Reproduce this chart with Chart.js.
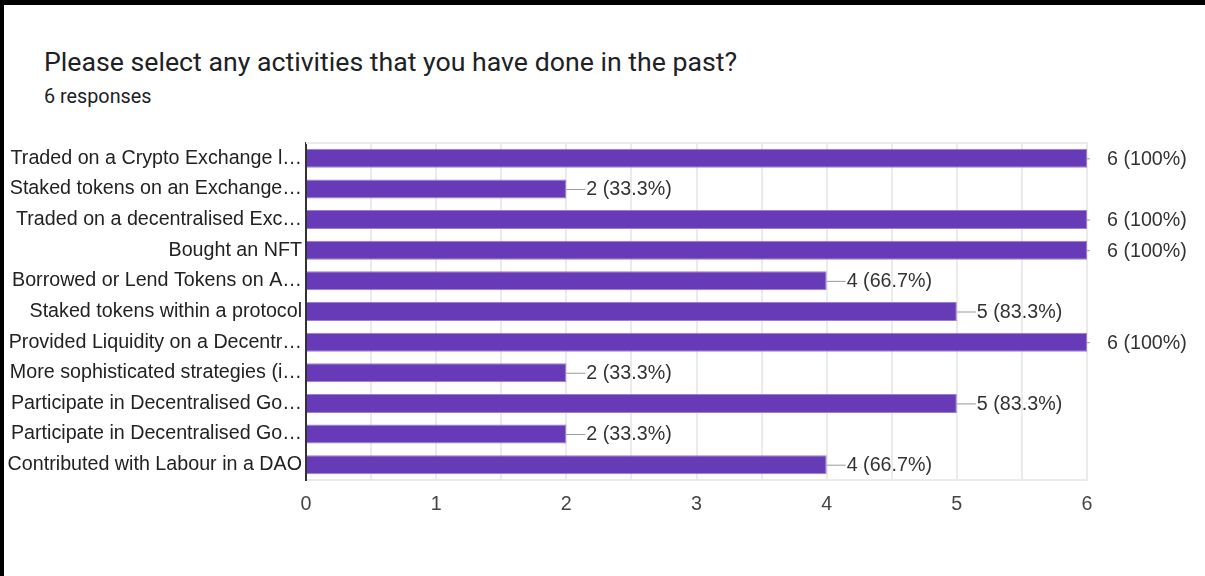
<!DOCTYPE html>
<html>
<head>
<meta charset="utf-8">
<script src="https://cdn.jsdelivr.net/npm/chart.js@4"></script>
<style>
  html, body { margin: 0; padding: 0; background: #000; width: 1205px; height: 576px; overflow: hidden; }
  #card { position: absolute; left: 4px; top: 5px; right: 0; bottom: 0; background: #fff; }
  #title { position: absolute; left: 44px; top: 46px; font-family: Roboto, sans-serif; font-size: 26.7px; line-height: 32px; color: #202124; white-space: nowrap; }
  #sub { position: absolute; left: 44px; top: 85px; font-family: Roboto, sans-serif; font-size: 19.8px; line-height: 24px; color: #202124; white-space: nowrap; }
  #wrap { position: absolute; left: 0; top: 0; width: 1205px; height: 576px; }
</style>
</head>
<body>
<div id="card"></div>
<div id="title">Please select any activities that you have done in the past?</div>
<div id="sub">6 responses</div>
<div id="wrap"><canvas id="c" width="1205" height="576"></canvas></div>
<script>
const categories = [
  "Traded on a Crypto Exchange l…",
  "Staked tokens on an Exchange…",
  "Traded on a decentralised Exc…",
  "Bought an NFT",
  "Borrowed or Lend Tokens on A…",
  "Staked tokens within a protocol",
  "Provided Liquidity on a Decentr…",
  "More sophisticated strategies (i…",
  "Participate in Decentralised Go…",
  "Participate in Decentralised Go…",
  "Contributed with Labour in a DAO"
];
const counts = [6, 2, 6, 6, 4, 5, 6, 2, 5, 2, 4];
const valueLabels = ["6 (100%)", "2 (33.3%)", "6 (100%)", "6 (100%)", "4 (66.7%)", "5 (83.3%)", "6 (100%)", "2 (33.3%)", "5 (83.3%)", "2 (33.3%)", "4 (66.7%)"];
const xTickLabels = ["0", "1", "2", "3", "4", "5", "6"];

const FONT = '"Liberation Sans", Arial, sans-serif';
const FS = 19.7;

const labelPlugin = {
  id: 'valueLabels',
  beforeDatasetsDraw(chart) {
    const ctx = chart.ctx, a = chart.chartArea;
    ctx.save();
    ctx.strokeStyle = '#ebebeb';
    ctx.lineWidth = 2;
    ctx.beginPath();
    ctx.moveTo(a.left, a.top); ctx.lineTo(a.right + 1, a.top);
    ctx.stroke();
    ctx.restore();
  },
  afterDatasetsDraw(chart) {
    const ctx = chart.ctx, a = chart.chartArea;
    const meta = chart.getDatasetMeta(0);
    ctx.save();
    ctx.font = FS + 'px ' + FONT;
    ctx.textBaseline = 'middle';
    ctx.textAlign = 'left';
    meta.data.forEach((bar, i) => {
      const x = bar.x, y = bar.y;
      const end = Math.min(x + 19, a.right + 3);
      ctx.strokeStyle = '#999';
      ctx.lineWidth = 1;
      ctx.beginPath();
      ctx.moveTo(x, y + 0.5); ctx.lineTo(end, y + 0.5);
      ctx.stroke();
      ctx.fillStyle = '#333';
      ctx.fillText(valueLabels[i], x + 20, y + 1);
    });
    ctx.restore();
  }
};

new Chart(document.getElementById('c'), {
  type: 'bar',
  data: {
    labels: categories,
    datasets: [{
      data: counts,
      backgroundColor: '#673ab7',
      borderColor: '#9b7fd4',
      borderWidth: 1,
      borderSkipped: 'start',
      barPercentage: 0.62,
      categoryPercentage: 1.0
    }]
  },
  options: {
    indexAxis: 'y',
    responsive: false,
    animation: false,
    layout: { padding: { top: 143, right: 118, bottom: 56, left: 0 } },
    plugins: { legend: { display: false }, tooltip: { enabled: false } },
    scales: {
      x: {
        min: 0, max: 6,
        ticks: {
          stepSize: 0.5,
          padding: 13,
          color: '#444',
          font: { family: FONT, size: FS },
          callback: (v) => Number.isInteger(v) ? xTickLabels[v] : ''
        },
        grid: { color: '#ebebeb', lineWidth: 2, drawTicks: false },
        border: { color: '#ebebeb', width: 2 },
        afterFit: (s) => { s.height = 40; }
      },
      y: {
        ticks: {
          padding: 4,
          color: '#222',
          font: { family: FONT, size: FS },
          autoSkip: false
        },
        grid: { display: false, drawTicks: false },
        border: { color: '#333', width: 2 },
        afterFit: (s) => { s.width = 306; }
      }
    }
  },
  plugins: [labelPlugin]
});
</script>
</body>
</html>
